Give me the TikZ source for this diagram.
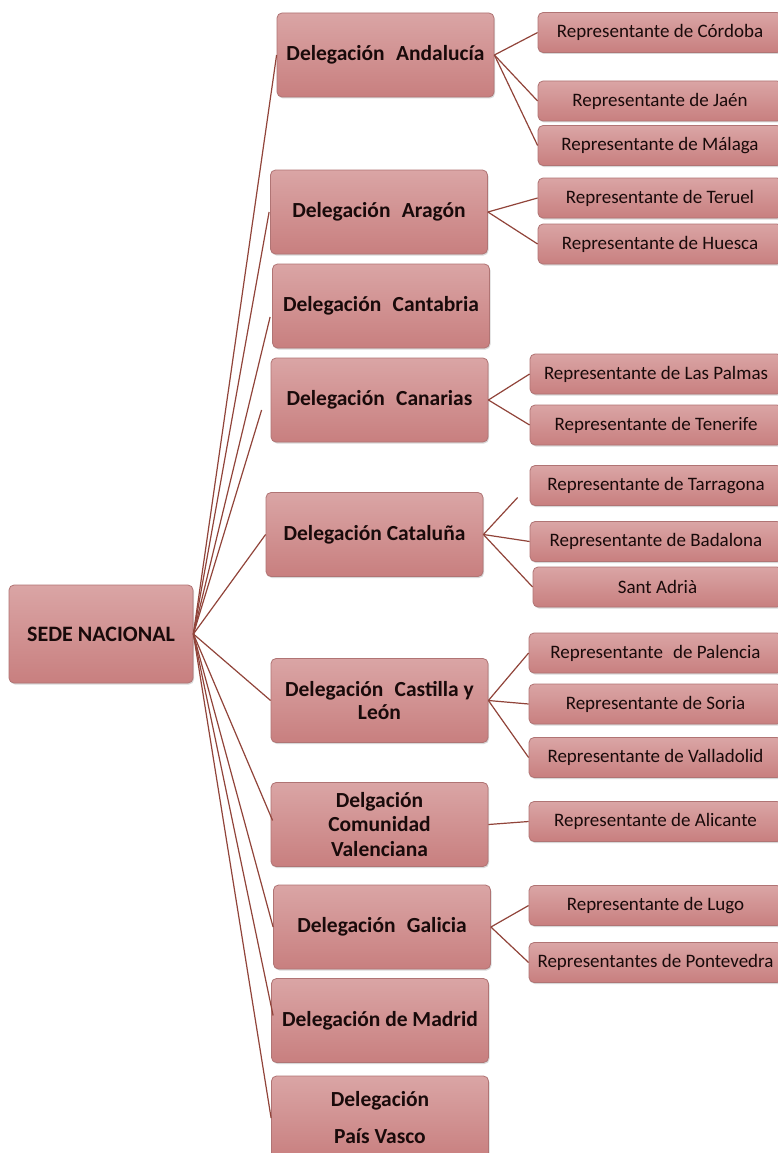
\documentclass[tikz,border=0pt]{standalone}
\usepackage{fontspec}
\setmainfont{Carlito}
\usetikzlibrary{shadows,calc}
\definecolor{boxtop}{RGB}{218,165,165}
\definecolor{boxbot}{RGB}{200,127,127}
\definecolor{boxline}{RGB}{176,116,116}
\definecolor{conn}{RGB}{145,68,58}
\definecolor{txt}{RGB}{25,10,10}
\newcommand{\dsp}{\hspace{0.3em}}
\tikzset{
 base/.style={rounded corners=5pt, draw=boxline, line width=0.8pt, top color=boxtop, bottom color=boxbot, text=txt, align=center, inner sep=0pt,
   general shadow={fill=black!50, opacity=0.3, shadow xshift=1pt, shadow yshift=-1.5pt}},
 root/.style={base, minimum width=184pt, minimum height=98pt, font=\fontsize{22}{26}\selectfont\bfseries},
 deleg/.style={base, minimum width=217pt, minimum height=84pt, font=\fontsize{21.5}{24.5}\selectfont\bfseries},
 rep/.style={base, minimum height=40pt, font=\fontsize{19}{22}\selectfont},
 repA/.style={rep, minimum width=244pt},
 repB/.style={rep, minimum width=252pt},
 repC/.style={rep, minimum width=253pt},
 repD/.style={rep, minimum width=249pt},
 link/.style={draw=conn, line width=1.2pt},
}
\begin{document}
\begin{tikzpicture}[x=1pt,y=-1pt]
\clip (0,0) rectangle (778,1153);
\fill[white] (0,0) rectangle (778,1153);
% root
\node[root] (root) at (101,634) {SEDE NACIONAL};
% delegations
\node[deleg] (and) at (385.5,55) {Delegación\dsp{} Andalucía};
\node[deleg] (ara) at (379,212) {Delegación\dsp{} Aragón};
\node[deleg] (can) at (381,306) {Delegación\dsp{} Cantabria};
\node[deleg] (cana) at (379.5,400) {Delegación\dsp{} Canarias};
\node[deleg] (cat) at (374.5,534.5) {Delegación Cataluña};
\node[deleg, font=\fontsize{21.5}{23}\selectfont\bfseries] (cyl) at (379.5,700.5) {Delegación\dsp{} Castilla y\\León};
\node[deleg] (val) at (379.5,824.5) {Delgación\\Comunidad\\Valenciana};
\node[deleg] (gal) at (382,927) {Delegación\dsp{} Galicia};
\node[deleg] (mad) at (380,1020.5) {Delegación de Madrid};
\node[deleg, font=\fontsize{21.5}{37}\selectfont\bfseries] (pv) at (380,1118) {Delegación\\País Vasco};
% representatives
\node[repA] (cor) at (660,32.5) {Representante de Córdoba};
\node[repA] (jae) at (660,101) {Representante de Jaén};
\node[repA] (mal) at (660,145.5) {Representante de Málaga};
\node[repA] (ter) at (660,198) {Representante de Teruel};
\node[repA] (hue) at (660,244) {Representante de Huesca};
\node[repB] (lpa) at (656,374) {Representante de Las Palmas};
\node[repB] (ten) at (656,425) {Representante de Tenerife};
\node[repB] (tar) at (656,485.5) {Representante de Tarragona};
\node[repB] (bad) at (656,541.5) {Representante de Badalona};
\node[repD] (sad) at (657.5,587) {Sant Adrià};
\node[repC] (pal) at (655.5,653) {Representante\dsp{} de Palencia};
\node[repC] (sor) at (655.5,704) {Representante de Soria};
\node[repC] (vll) at (655.5,757.5) {Representante de Valladolid};
\node[repC] (ali) at (655.5,821.5) {Representante de Alicante};
\node[repC] (lug) at (655.5,905.5) {Representante de Lugo};
\node[repC] (pon) at (655.5,962.5) {Representantes de Pontevedra};
% root links
\draw[link] (root.east) -- (and.west);
\draw[link] (root.east) -- ($(ara.west)+(-1,0)$);
\draw[link] (root.east) -- ($(can.west)+(-2,11)$);
\draw[link] (root.east) -- ($(cana.west)+(-9,10)$);
\draw[link] (root.east) -- (cat.west);
\draw[link] (root.east) -- (cyl.west);
\draw[link] (root.east) -- ($(val.west)+(2,-4)$);
\draw[link] (root.east) -- (gal.west);
\draw[link] (root.east) -- ($(mad.west)+(2,-5)$);
\draw[link] (root.east) -- (pv.west);
% delegation links
\draw[link] (and.east) -- (cor.west);
\draw[link] (and.east) -- (jae.west);
\draw[link] (and.east) -- (mal.west);
\draw[link] (ara.east) -- (ter.west);
\draw[link] (ara.east) -- (hue.west);
\draw[link] (cana.east) -- (lpa.west);
\draw[link] (cana.east) -- (ten.west);
\draw[link] (cat.east) -- ($(tar.west)+(-12,12)$);
\draw[link] (cat.east) -- (bad.west);
\draw[link] (cat.east) -- (sad.west);
\draw[link] (cyl.east) -- (pal.west);
\draw[link] (cyl.east) -- (sor.west);
\draw[link] (cyl.east) -- (vll.west);
\draw[link] (val.east) -- (ali.west);
\draw[link] (gal.east) -- (lug.west);
\draw[link] (gal.east) -- (pon.west);
\end{tikzpicture}
\end{document}
